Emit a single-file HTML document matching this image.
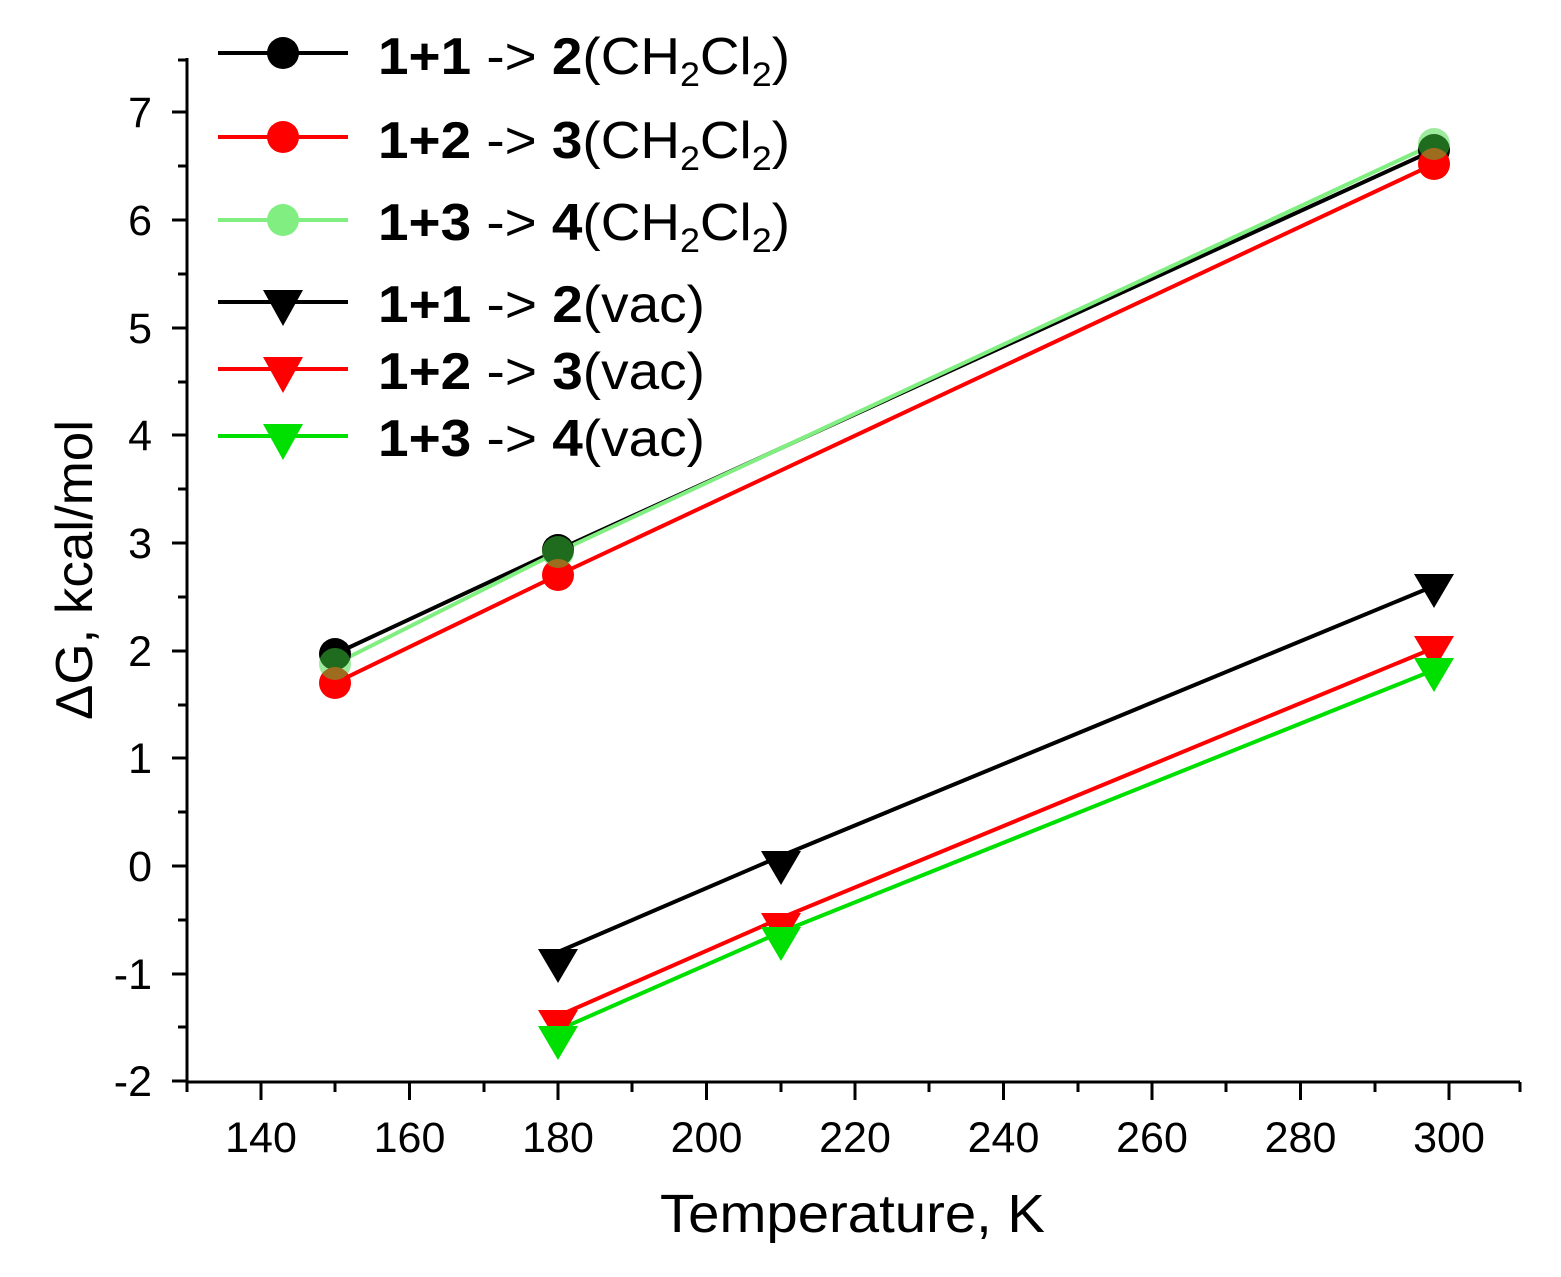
<!DOCTYPE html>
<html><head><meta charset="utf-8"><style>body{margin:0;background:#fff}svg{display:block}</style></head>
<body>
<svg width="1561" height="1277" viewBox="0 0 1561 1277" xmlns="http://www.w3.org/2000/svg" font-family="Liberation Sans, Arial, sans-serif">
<rect width="1561" height="1277" fill="#fff"/>
<g stroke="#000" stroke-width="3" fill="none">
<path d="M187,58 V1082 H1520"/>
<path d="M261,1082v18M409.5,1082v18M558,1082v18M706.5,1082v18M855,1082v18M1003.5,1082v18M1152,1082v18M1300.5,1082v18M1449,1082v18"/>
<path d="M187,1082v10M335,1082v10M484,1082v10M632,1082v10M781,1082v10M929,1082v10M1078,1082v10M1226,1082v10M1375,1082v10M1520,1082v10"/>
<path d="M172,112h15M172,220h15M172,328h15M172,435h15M172,543h15M172,651h15M172,758h15M172,866h15M172,974h15M172,1081h15"/>
<path d="M178,60h9M178,166h9M178,274h9M178,382h9M178,489h9M178,597h9M178,705h9M178,812h9M178,920h9M178,1027h9"/>
</g>
<g font-size="43" text-anchor="end" fill="#000">
<text x="152" y="127">7</text><text x="152" y="235">6</text><text x="152" y="343">5</text><text x="152" y="450">4</text><text x="152" y="558">3</text><text x="152" y="666">2</text><text x="152" y="773">1</text><text x="152" y="881">0</text><text x="152" y="989">-1</text><text x="152" y="1096">-2</text>
</g>
<g font-size="43" text-anchor="middle" fill="#000">
<text x="261" y="1152">140</text><text x="409.5" y="1152">160</text><text x="558" y="1152">180</text><text x="706.5" y="1152">200</text><text x="855" y="1152">220</text><text x="1003.5" y="1152">240</text><text x="1152" y="1152">260</text><text x="1300.5" y="1152">280</text><text x="1449" y="1152">300</text>
</g>
<text x="660" y="1232" font-size="54" textLength="385" lengthAdjust="spacingAndGlyphs">Temperature, K</text>
<text transform="translate(92,570) rotate(-90)" x="-150" font-size="52" textLength="300" lengthAdjust="spacingAndGlyphs">ΔG, kcal/mol</text>

<g fill="none" stroke-width="4">
<polyline stroke="#000" points="335,654 558,550 1434,150"/>
<polyline stroke="#f00" points="335,683 558,575 1434,164"/>
<polyline stroke="#80ee80" points="335,664 558,552 1434,144"/>
<polyline stroke="#000" points="558,952 781,856 1434,586"/>
<polyline stroke="#f00" points="558,1016 781,918 1434,648"/>
<polyline stroke="#00e000" points="558,1030 781,932 1434,670"/>
</g>
<g>
<circle cx="335" cy="654" r="16" fill="#000"/><circle cx="558" cy="550" r="16" fill="#000"/><circle cx="1434" cy="150" r="16" fill="#000"/>
<circle cx="335" cy="683" r="16" fill="#f00"/><circle cx="558" cy="575" r="16" fill="#f00"/><circle cx="1434" cy="164" r="16" fill="#f00"/>
<g fill="#3dd83d" fill-opacity="0.5"><circle cx="335" cy="664" r="16"/><circle cx="558" cy="552" r="16"/><circle cx="1434" cy="144" r="16"/></g>
</g>
<g fill="#000"><polygon points="538,949 578,949 558,983"/><polygon points="761,851 801,851 781,885"/><polygon points="1414,574 1454,574 1434,608"/></g>
<g fill="#f00"><polygon points="538,1010 578,1010 558,1044"/><polygon points="761,913 801,913 781,947"/><polygon points="1414,636 1454,636 1434,670"/></g>
<g fill="#00e000"><polygon points="538,1026 578,1026 558,1060"/><polygon points="761,927 801,927 781,961"/><polygon points="1414,658 1454,658 1434,692"/></g>

<g stroke-width="4">
<line x1="218" y1="53" x2="348" y2="53" stroke="#000"/><circle cx="283" cy="53" r="16" fill="#000"/>
<line x1="218" y1="137" x2="348" y2="137" stroke="#f00"/><circle cx="283" cy="137" r="16" fill="#f00"/>
<line x1="218" y1="220" x2="348" y2="220" stroke="#80ee80"/><circle cx="283" cy="220" r="16" fill="#80ee80"/>
<line x1="218" y1="302" x2="348" y2="302" stroke="#000"/><polygon points="263,290 303,290 283,326" fill="#000"/>
<line x1="218" y1="369" x2="348" y2="369" stroke="#f00"/><polygon points="263,357 303,357 283,393" fill="#f00"/>
<line x1="218" y1="436" x2="348" y2="436" stroke="#00e000"/><polygon points="263,424 303,424 283,460" fill="#00e000"/>
</g>
<g font-size="52" fill="#000">
<text x="378" y="74" textLength="412" lengthAdjust="spacingAndGlyphs"><tspan font-weight="bold">1+1</tspan> -&gt; <tspan font-weight="bold">2</tspan>(CH<tspan font-size="34" dy="12">2</tspan><tspan dy="-12">Cl</tspan><tspan font-size="34" dy="12">2</tspan><tspan dy="-12">)</tspan></text>
<text x="378" y="158" textLength="412" lengthAdjust="spacingAndGlyphs"><tspan font-weight="bold">1+2</tspan> -&gt; <tspan font-weight="bold">3</tspan>(CH<tspan font-size="34" dy="12">2</tspan><tspan dy="-12">Cl</tspan><tspan font-size="34" dy="12">2</tspan><tspan dy="-12">)</tspan></text>
<text x="378" y="240" textLength="412" lengthAdjust="spacingAndGlyphs"><tspan font-weight="bold">1+3</tspan> -&gt; <tspan font-weight="bold">4</tspan>(CH<tspan font-size="34" dy="12">2</tspan><tspan dy="-12">Cl</tspan><tspan font-size="34" dy="12">2</tspan><tspan dy="-12">)</tspan></text>
<text x="378" y="322" textLength="327" lengthAdjust="spacingAndGlyphs"><tspan font-weight="bold">1+1</tspan> -&gt; <tspan font-weight="bold">2</tspan>(vac)</text>
<text x="378" y="389" textLength="327" lengthAdjust="spacingAndGlyphs"><tspan font-weight="bold">1+2</tspan> -&gt; <tspan font-weight="bold">3</tspan>(vac)</text>
<text x="378" y="456" textLength="327" lengthAdjust="spacingAndGlyphs"><tspan font-weight="bold">1+3</tspan> -&gt; <tspan font-weight="bold">4</tspan>(vac)</text>
</g>
</svg>
</body></html>
